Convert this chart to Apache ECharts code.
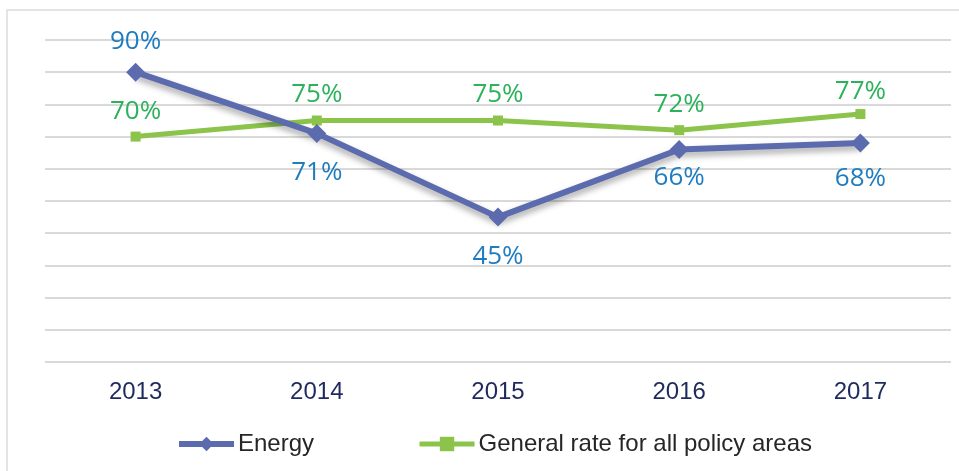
<!DOCTYPE html>
<html>
<head>
<meta charset="utf-8">
<script src="https://cdn.jsdelivr.net/npm/echarts@6/dist/echarts.min.js"></script>
<style>
  html, body { margin: 0; padding: 0; background: #fff; }
  #chart { width: 959px; height: 471px; }
</style>
</head>
<body>
<div id="chart"></div>
<script>
// data
const years = ['2013', '2014', '2015', '2016', '2017'];
const energy = [90, 71, 45, 66, 68];
const generalRate = [70, 75, 75, 72, 77];
// label placement around each point
const energyLabelPos = ['top', 'bottom', 'bottom', 'bottom', 'bottom'];
const energyLabelDist = [8, 17, 17, 6, 13];
const generalLabelDist = [7, 8, 8, 8, 4];

const chart = echarts.init(document.getElementById('chart'));

const labelFont = '"Open Sans", sans-serif';
const axisFont = 'Arial, "Liberation Sans", sans-serif';

const option = {
  animation: false,
  graphic: [{
    type: 'rect',
    shape: { x: 7, y: 10, width: 1000, height: 500 },
    style: { fill: 'none', stroke: '#dcdcdc', lineWidth: 1.5 },
    silent: true
  }],
  grid: { left: 45, right: 8, top: 40, bottom: 109 },
  legend: {
    left: 171,
    top: 427,
    itemWidth: 55,
    itemHeight: 18,
    itemGap: 103,
    textStyle: { fontSize: 24, color: '#262626', fontFamily: axisFont, padding: [0, 0, 0, -1] },
    data: [
      { name: 'Energy', lineStyle: { width: 6 } },
      { name: 'General rate for all policy areas', lineStyle: { width: 5 } }
    ]
  },
  xAxis: {
    type: 'category',
    data: years,
    axisLine: { show: false },
    axisTick: { show: false },
    axisLabel: {
      margin: 18,
      fontSize: 24,
      color: '#1f2a5c',
      fontFamily: axisFont
    }
  },
  yAxis: {
    type: 'value',
    min: 0,
    max: 100,
    interval: 10,
    axisLabel: { show: false },
    axisLine: { show: false },
    axisTick: { show: false },
    splitLine: { lineStyle: { color: '#d9d9d9', width: 2 } }
  },
  series: [
    {
      name: 'Energy',
      type: 'line',
      data: energy.map((v, i) => ({
        value: v,
        label: { position: energyLabelPos[i], distance: energyLabelDist[i] }
      })),
      symbol: 'diamond',
      symbolSize: 19,
      z: 3,
      itemStyle: { color: '#5b6bae' },
      lineStyle: {
        color: '#5b6bae',
        width: 6,
        shadowColor: 'rgba(0,0,0,0.35)',
        shadowBlur: 6,
        shadowOffsetY: 4
      },
      label: {
        show: true,
        formatter: '{c}%',
        fontSize: 26,
        color: '#1f7dbf',
        fontFamily: labelFont
      }
    },
    {
      name: 'General rate for all policy areas',
      type: 'line',
      data: generalRate.map((v, i) => ({
        value: v,
        label: { distance: generalLabelDist[i] }
      })),
      symbol: 'rect',
      symbolSize: 10,
      z: 2,
      itemStyle: { color: '#8cc34b' },
      lineStyle: { color: '#8cc34b', width: 5 },
      label: {
        show: true,
        position: 'top',
        formatter: '{c}%',
        fontSize: 26,
        color: '#2bb25b',
        fontFamily: labelFont
      }
    }
  ]
};

chart.setOption(option);
</script>
</body>
</html>
